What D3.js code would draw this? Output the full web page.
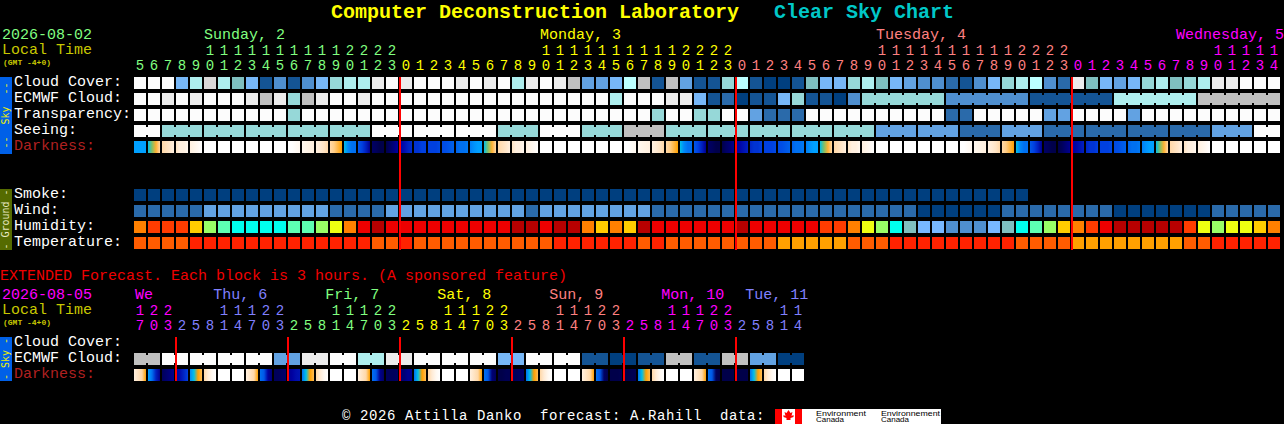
<!DOCTYPE html>
<html>
<head>
<meta charset="utf-8">
<script src="https://cdn.jsdelivr.net/npm/d3@7"></script>
<style>
html, body { margin: 0; padding: 0; background: #000; overflow: hidden; }
text { font-family: "Liberation Mono", monospace; }
</style>
</head>
<body>
<div id="chart"></div>
<script>
var width = 1284, height = 424;

// colour tables
var cloudColors = ['#003f7f', '#145494', '#2a6aaa', '#4f8fcf', '#62a2e2', '#77b7f7', '#7fbfbf',
    '#96d8d8', '#aeeeee', '#bbffff', '#c0c0c0', '#d8d8d8', '#ececec', '#fcfcfc'];
var humidityColors = ['#4f8fcf', '#78b8ff', '#7fbfbf', '#00ffee', '#5dffb2', '#99ff66', '#eeff11',
    '#ffcc00', '#ff8000', '#ff3c00', '#ee0000', '#b80000'];
var temperatureColors = ['#ff2200', '#ff5c00', '#ffa000'];
var darknessLevels = [0, 1, 2, 3, 4, 5, 6, 7, 8, 9];
var darknessColors = ['#00004a', '#0000a0', '#0040e0', '#0070f0', '#00a0ff', '#00e0d0',
    '#ffa000', '#ffd8a8', '#fff0e0', '#ffffff'];

// 1 hour blocks
var cloudCover = [13,13,13,5,8,11,8,6,5,1,3,1,3,5,7,8,8,12,13,12,13,
    13,13,12,13,12,13,8,12,13,12,10,4,4,5,9,10,1,10,4,1,1,7,9,1,0,0,1,6,5,5,7,
    8,6,5,4,3,3,2,1,3,5,7,8,9,3,2,12,6,5,4,5,7,8,6,7,8,12,12,13,13,13];
var ecmwfCloud = [13,13,12,13,12,13,13,13,12,10,12,7,10,12,13,13,12,13,13,13,13,
    13,13,13,13,13,13,13,13,13,13,13,13,13,8,13,13,13,12,12,5,1,2,0,1,1,5,7,1,1,0,3,
    7,7,7,7,7,7,3,3,3,3,3,3,1,1,1,1,1,1,8,8,8,8,8,8,10,10,10,10,10,10];
var transparency = [13,13,13,13,13,13,13,13,13,13,13,7,13,13,13,13,13,13,13,13,13,
    13,13,13,13,13,13,13,13,13,13,13,13,13,13,13,13,7,13,13,7,7,13,13,4,2,2,2,13,13,13,13,
    13,13,13,13,13,13,2,2,13,13,13,13,13,4,4,13,13,13,13,4,13,13,13,13,13,13,13,13,13,13];
var seeing = [13,13,7,7,7,7,7,7,7,7,7,7,7,7,7,7,7,13,13,13,13,
    13,13,13,13,13,7,7,7,13,13,13,7,7,7,10,10,10,7,7,7,7,7,7,7,7,7,7,7,7,7,7,
    7,4,4,4,4,4,4,2,2,2,4,4,4,2,2,2,2,2,2,2,2,2,2,2,2,4,4,4,13,13];
var smoke = [0,0,0,0,0,0,0,0,0,0,0,0,0,0,0,0,0,0,0,0,0,0,0,0,0,0,0,0,0,0,0,0,
    0,0,0,0,0,0,0,0,0,0,0,0,0,0,0,0,0,0,0,0,0,0,0,0,0,0,0,0,0,0,0,0];
var wind = [2,2,2,2,2,4,4,4,4,4,4,4,4,4,2,2,2,2,4,4,4,
    4,4,4,4,4,4,4,2,4,4,4,4,4,4,4,4,2,2,2,2,2,2,2,2,2,2,2,2,2,2,2,
    2,2,2,2,0,0,0,0,0,0,2,2,2,2,2,2,2,2,0,0,0,0,0,0,0,2,2,2,2,2];
var humidity = [8,9,9,9,7,5,4,3,3,3,3,4,4,5,6,8,10,11,10,10,10,
    10,10,10,10,10,10,11,11,10,11,11,8,7,8,7,11,10,10,10,10,10,10,11,10,10,10,10,10,9,9,8,
    6,5,3,2,1,1,0,0,0,1,2,3,4,5,7,8,9,10,11,11,11,11,11,9,6,5,6,6,7,8];
var temperature = [1,1,1,1,0,0,0,0,0,0,0,0,0,0,0,0,0,1,1,0,1,
    1,1,1,1,1,1,1,1,1,0,0,0,0,0,0,1,0,1,1,1,1,1,1,1,1,2,2,2,2,2,1,
    1,1,0,0,0,0,0,0,0,0,0,1,1,1,1,2,2,2,2,2,2,2,2,1,1,0,0,0,0,0];

// four readings across each block, in darkness levels
var darkness = [
    [4,4,4,4],[4.5,5.5,6.3,7],[7,7.3,7.6,8],[7.5,8,8,8.5],[8,8.3,8.6,9],[9,9,9,9],[9,9,9,9],[9,9,9,9],
    [9,9,9,9],[9,9,9,9],[9,9,9,9],[9,9,8.7,8.5],[8.5,8.3,8.1,8],[8,7.8,7.5,7],[7,6.8,6.4,6],[4.5,3.5,3,3],
    [2.5,2,1.5,0.8],[0.3,0.2,0,0],[0,0.3,0.6,1],[1,1.2,1.5,1.7],[1.8,1.8,2,2],
    [2,2,2,2.2],[2.2,2.3,2.5,2.7],[2.7,3,3,3.2],[3.3,3.7,4,4],[4.5,5.5,6.3,7],[7,7.3,7.6,8],[7.5,8,8,8.5],
    [8,8.3,8.6,9],[9,9,9,9],[9,9,9,9],[9,9,9,9],[9,9,9,9],[9,9,9,9],[9,9,9,9],[9,9,8.7,8.5],
    [8.5,8.3,8.1,8],[8,7.8,7.5,7],[7,6.8,6.4,6],[4.5,3.5,3,3],[2.5,2,1.5,0.8],[0.3,0.2,0,0],[0,0.3,0.5,0.8],
    [1,1.1,1.3,1.5],[1.6,1.8,1.8,2],[2,2,2,2.2],[2.2,2.3,2.5,2.7],[2.7,3,3,3.2],[3.3,3.7,4,4],[4.5,5.5,6.3,7],
    [7,7.3,7.6,8],[7.5,8,8,8.5],[8,8.3,8.6,9],[9,9,9,9],[9,9,9,9],[9,9,9,9],[9,9,9,9],[9,9,9,9],
    [9,9,9,9],[9,9,8.7,8.5],[8.5,8.3,8.1,8],[8,7.8,7.5,7],[7,6.8,6.4,6],[4.5,3.5,3,3],[2.5,2,1.5,0.8],[0.3,0.2,0,0],
    [0,0.2,0.5,0.8],[1,1.1,1.3,1.5],[1.6,1.8,1.8,2],[2,2,2,2.2],[2.2,2.3,2.5,2.7],[2.7,3,3,3.2],[3.3,3.7,4,4],
    [4.5,5.5,6.3,7],[7,7.3,7.6,8],[7.5,8,8,8.5],[8,8.3,8.6,9],[9,9,9,9],[9,9,9,9],[9,9,9,9],[9,9,9,9],[9,9,9,9]
];

// 3 hour blocks
var extCloud = [10,10,13,13,13,13,13,13,13,13,4,4,12,12,13,13,8,8,12,12,13,13,13,13,
    13,13,5,5,13,13,13,13,1,1,0,0,1,1,10,10,1,1,10,10,4,4,0,0];
var extDarkness = [
    [8,7.5,7,6],[4,3,1.5,0.8],[0.2,0.4,0.6,0.8],[1,1.2,1.6,2],[3.5,4.5,6,6.5],[7,7.8,8.5,9],[9,9,9,9],[9,9,9,9],
    [8,7.5,7,6],[3,2.5,1,0.5],[0.2,0.2,0.3,0.4],[0.8,1,1.2,1.3],[3,4.5,6,6.5],[7,7.8,8.5,9],[9,9,9,9],[9,9,9,9],
    [8,7.5,7,6],[3,2.5,0.8,0.3],[0.2,0.2,0.2,0.3],[0.5,0.5,0.8,0.8],[3,4.5,6,6.5],[7,7.8,8.5,9],[9,9,9,9],[9,9,9,9],
    [8,7.5,7,6],[3,2.5,0.5,0.2],[0,0,0.1,0.1],[0.2,0.2,0.3,0.3],[3,4.5,6,6.5],[7,7.8,8.5,9],[9,9,9,9],[9,9,9,9],
    [8,7.5,7,6],[3,2.5,0.3,0],[0,0,0,0.1],[0,0,0.1,0.1],[3,4.5,6,6.5],[7,7.8,8.5,9],[9,9,9,9],[9,9,9,9],
    [8,7.5,7,6],[3,2.5,0.2,0],[0,0,0,0],[0,0,0,0],[3,4.5,6,6.5],[7,7.8,8.5,9],[9,9,9,9],[9,9,9,9]
];

// first and last block of each joined run
var seeingRuns = [[0,1],[2,4],[5,7],[8,10],[11,13],[14,16],[17,19],[20,22],[23,25],[26,28],[29,31],[32,34],[35,37],
    [38,40],[41,43],[44,46],[47,49],[50,52],[53,55],[56,58],[59,61],[62,64],[65,67],[68,70],[71,73],[74,76],[77,79],[80,81]];
var ecmwfRuns = [[52,57],[58,63],[64,69],[70,75],[76,81]];
var extCloudRuns = [[0,1],[2,3],[4,5],[6,7],[8,9],[10,11],[12,13],[14,15],[16,17],[18,19],[20,21],[22,23],
    [24,25],[26,27],[28,29],[30,31],[32,33],[34,35],[36,37],[38,39],[40,41],[42,43],[44,45],[46,47]];

// time axis labels
var hours = ['5','6','7','8','9','10','11','12','13','14','15','16','17','18','19','20','21','22','23',
    '0','1','2','3','4','5','6','7','8','9','10','11','12','13','14','15','16','17','18','19','20','21','22','23',
    '0','1','2','3','4','5','6','7','8','9','10','11','12','13','14','15','16','17','18','19','20','21','22','23',
    '0','1','2','3','4','5','6','7','8','9','10','11','12','13','14'];
var hourDays = [19, 24, 24, 15];
var dayNames = ['Sunday, 2', 'Monday, 3', 'Tuesday, 4', 'Wednesday, 5'];
var dayCells = [5, 29, 53, 74.43];
var dayColors = ['#80ff80', '#ffff00', '#ff8080', '#ff00ff'];

var extHours = ['17','20','23','2','5','8','11','14','17','20','23','2','5','8','11','14','17','20','23','2','5','8','11','14',
    '17','20','23','2','5','8','11','14','17','20','23','2','5','8','11','14','17','20','23','2','5','8','11','14'];
var extHourDays = [3, 8, 8, 8, 8, 8, 5];
var extDayNames = ['We', 'Thu, 6', 'Fri, 7', 'Sat, 8', 'Sun, 9', 'Mon, 10', 'Tue, 11'];
var extDayCells = [0.07, 5.66, 13.66, 21.66, 29.66, 37.66, 43.66];
var extDayColors = ['#ff00ff', '#8080ff', '#80ff80', '#ffff00', '#ff8080', '#ff00ff', '#8080ff'];

var midnightCells = [19, 43, 67];
var extMidnightCells = [3, 11, 19, 27, 35, 43];

var svg = d3.select('#chart')
    .append('svg')
    .attr('width', width)
    .attr('height', height)
    .style('display', 'block');
var defs = svg.append('defs');

var x = d3.scaleLinear().domain([0, 1]).range([134, 148]);
var cloudScale = d3.scaleOrdinal().domain(d3.range(cloudColors.length)).range(cloudColors);
var humidityScale = d3.scaleOrdinal().domain(d3.range(humidityColors.length)).range(humidityColors);
var temperatureScale = d3.scaleOrdinal().domain(d3.range(temperatureColors.length)).range(temperatureColors);
var darknessScale = d3.scaleLinear().domain(darknessLevels).range(darknessColors);

function drawText(str, px, py, color, size, weight) {
    return svg.append('text')
        .attr('x', px)
        .attr('y', py)
        .attr('fill', color)
        .attr('font-size', size || 15)
        .attr('font-weight', weight || 'normal')
        .style('white-space', 'pre')
        .text(str);
}

function drawRow(values, y, scale, runs) {
    var g = svg.append('g').attr('shape-rendering', 'crispEdges');
    g.selectAll('rect.cell')
        .data(values).enter()
        .append('rect')
        .attr('class', 'cell')
        .attr('x', function (d, i) { return x(i); })
        .attr('y', y)
        .attr('width', 12)
        .attr('height', 12)
        .attr('fill', function (d) { return scale(d); });
    if (!runs) return;
    // narrow bridges between the blocks of a run
    var bridges = [];
    runs.forEach(function (r) {
        for (var i = r[0]; i < r[1]; i++) bridges.push(i);
    });
    g.selectAll('rect.bridge')
        .data(bridges).enter()
        .append('rect')
        .attr('class', 'bridge')
        .attr('x', function (d) { return x(d) + 12; })
        .attr('y', y + 2)
        .attr('width', 2)
        .attr('height', 8)
        .attr('fill', function (d) { return scale(values[d]); });
}

function drawDarkness(values, y, name) {
    var grads = defs.selectAll('linearGradient.' + name)
        .data(values).enter()
        .append('linearGradient')
        .attr('class', name)
        .attr('id', function (d, i) { return name + i; });
    grads.selectAll('stop')
        .data(function (d) { return d; }).enter()
        .append('stop')
        .attr('offset', function (d, j) { return j / 3; })
        .attr('stop-color', function (d) { return darknessScale(d); });
    svg.append('g').selectAll('rect')
        .data(values).enter()
        .append('rect')
        .attr('x', function (d, i) { return x(i); })
        .attr('y', y)
        .attr('width', 12)
        .attr('height', 12)
        .attr('fill', function (d, i) { return 'url(#' + name + i + ')'; });
}

function drawTimeAxis(labels, perDay, colors, names, cells, tensY, unitsY, nameY) {
    var colorOf = [];
    perDay.forEach(function (n, k) {
        for (var i = 0; i < n; i++) colorOf.push(colors[k]);
    });
    var g = svg.append('g').attr('text-anchor', 'middle').attr('font-size', 14);
    labels.forEach(function (d, i) {
        if (d.length > 1) {
            g.append('text')
                .attr('x', x(i) + 6)
                .attr('y', tensY)
                .attr('fill', colorOf[i])
                .text(d[0]);
        }
        g.append('text')
            .attr('x', x(i) + 6)
            .attr('y', unitsY)
            .attr('fill', colorOf[i])
            .text(d[d.length - 1]);
    });
    names.forEach(function (n, k) {
        drawText(n, x(cells[k]), nameY, colors[k]);
    });
}

function drawSideBar(label, y, h, color, textColor) {
    svg.append('rect')
        .attr('x', 0).attr('y', y)
        .attr('width', 12).attr('height', h)
        .attr('fill', color);
    svg.append('text')
        .attr('transform', 'translate(9,' + (y + h / 2) + ') rotate(-90)')
        .attr('text-anchor', 'middle')
        .attr('font-size', 10)
        .attr('fill', textColor)
        .style('font-family', '"DejaVu Sans Mono", monospace')
        .style('white-space', 'pre')
        .text(label);
}

function drawMidnights(cells, y0, y1) {
    svg.append('g').attr('shape-rendering', 'crispEdges').selectAll('rect')
        .data(cells).enter()
        .append('rect')
        .attr('x', function (d) { return x(d) - 1; })
        .attr('y', y0)
        .attr('width', 2)
        .attr('height', y1 - y0)
        .attr('fill', '#ff0000');
}

function drawLogoText(str, px, py, len) {
    svg.append('text')
        .attr('x', px)
        .attr('y', py)
        .attr('fill', '#000000')
        .attr('font-size', 7.5)
        .attr('textLength', len)
        .attr('lengthAdjust', 'spacingAndGlyphs')
        .style('font-family', '"Liberation Sans", sans-serif')
        .text(str);
}

// title
drawText('Computer Deconstruction Laboratory', 331, 18, '#ffff00', 20, 'bold');
drawText('Clear Sky Chart', 774, 18, '#00c8c8', 20, 'bold');

// main chart heading
drawText('2026-08-02', 2, 39, '#80ff80');
drawText('Local Time', 2, 54, '#c8c800');
drawText('(GMT -4+0)', 3, 65, '#c8c800', 8, 'bold');
drawTimeAxis(hours, hourDays, dayColors, dayNames, dayCells, 55, 70, 39);

// sky rows
drawSideBar('--  Sky  --', 77, 77, '#0060e8', '#f0f000');
drawText('Cloud Cover:', 14, 86, '#ffffff');
drawText('ECMWF Cloud:', 14, 102, '#ffffff');
drawText('Transparency:', 14, 118, '#ffffff');
drawText('Seeing:', 14, 134, '#ffffff');
drawText('Darkness:', 14, 150, '#b02020');
drawRow(cloudCover, 77, cloudScale);
drawRow(ecmwfCloud, 93, cloudScale, ecmwfRuns);
drawRow(transparency, 109, cloudScale);
drawRow(seeing, 125, cloudScale, seeingRuns);
drawDarkness(darkness, 141, 'dark');

// ground rows
drawSideBar('- Ground -', 189, 61, '#556b00', '#e8e8c0');
drawText('Smoke:', 14, 198, '#ffffff');
drawText('Wind:', 14, 214, '#ffffff');
drawText('Humidity:', 14, 230, '#ffffff');
drawText('Temperature:', 14, 246, '#ffffff');
drawRow(smoke, 189, cloudScale);
drawRow(wind, 205, cloudScale);
drawRow(humidity, 221, humidityScale);
drawRow(temperature, 237, temperatureScale);
drawMidnights(midnightCells, 77, 250);

// extended forecast
drawText('EXTENDED Forecast. Each block is 3 hours. (A sponsored feature)', 0, 280, '#f00000');
drawText('2026-08-05', 2, 299, '#ff00ff');
drawText('Local Time', 2, 314, '#c8c800');
drawText('(GMT -4+0)', 3, 325, '#c8c800', 8, 'bold');
drawTimeAxis(extHours, extHourDays, extDayColors, extDayNames, extDayCells, 315, 330, 299);

drawSideBar('- Sky -', 337, 44, '#0060e8', '#f0f000');
drawText('Cloud Cover:', 14, 346, '#ffffff');
drawText('ECMWF Cloud:', 14, 362, '#ffffff');
drawText('Darkness:', 14, 378, '#b02020');
drawRow(extCloud, 353, cloudScale, extCloudRuns);
drawDarkness(extDarkness, 369, 'extDark');
drawMidnights(extMidnightCells, 337, 381);

// footer
drawText('\u00a9 2026 Attilla Danko  forecast: A.Rahill  data:', 342, 419.7, '#ffffff', 14)
    .attr('letter-spacing', 0.6);
svg.append('rect').attr('x', 775).attr('y', 409).attr('width', 166).attr('height', 15).attr('fill', '#ffffff');
svg.append('rect').attr('x', 775).attr('y', 409).attr('width', 7).attr('height', 15).attr('fill', '#ff0000');
svg.append('rect').attr('x', 795).attr('y', 409).attr('width', 7).attr('height', 15).attr('fill', '#ff0000');
svg.append('path').attr('d', 'M788.5 410l2 3 2-1-1 4 2-1 0 2-3 1v2h-4v-2l-3-1 0-2 2 1-1-4 2 1z').attr('fill', '#ff0000');
drawLogoText('Environment', 816, 415.5, 50);
drawLogoText('Canada', 816, 422, 28);
drawLogoText('Environnement', 881, 415.5, 59);
drawLogoText('Canada', 881, 422, 28);
</script>
</body>
</html>
